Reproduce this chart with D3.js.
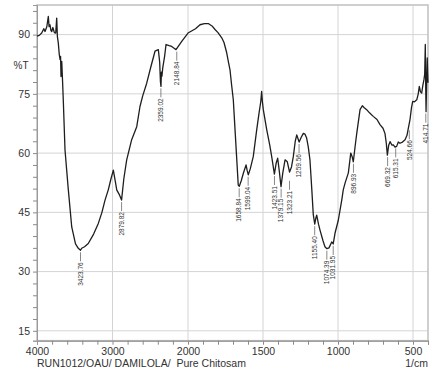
<!DOCTYPE html>
<html>
<head>
<meta charset="utf-8">
<script src="https://cdn.jsdelivr.net/npm/d3@7"></script>
<style>
  body { margin: 0; background: #fff; }
  svg { display: block; font-family: "Liberation Sans", Arial, sans-serif; }
</style>
</head>
<body>
<div class="chart"></div>
<script>
//wavenumber (1/cm) and %T
var wavenumbers = [
  4000, 3970, 3938, 3910, 3894, 3870, 3850, 3840, 3828, 3815, 3805, 3790, 3770, 3752, 3739, 3730,
  3718, 3705, 3695, 3688, 3682, 3672, 3660, 3652, 3629, 3585, 3540, 3490, 3453, 3424, 3408, 3370,
  3321, 3250, 3188, 3140, 3099, 3056, 3020, 2989, 2960, 2944, 2910, 2880, 2850, 2812, 2746, 2679,
  2636, 2600, 2547, 2490, 2437, 2393, 2375, 2365, 2358, 2352, 2345, 2335, 2310, 2291, 2250, 2216,
  2180, 2159, 2083, 2000,
  1950, 1920, 1890, 1865, 1840, 1820, 1800, 1775, 1760, 1742, 1730, 1720, 1710, 1698, 1685, 1676,
  1665, 1658, 1645, 1631, 1613, 1605, 1598, 1585, 1565, 1542, 1525, 1515, 1509, 1504, 1498, 1475,
  1455, 1442, 1424, 1412, 1402, 1390, 1380, 1368, 1353, 1338, 1323, 1310, 1298, 1285, 1275, 1259,
  1245, 1231, 1220, 1209, 1198, 1187, 1175, 1165, 1155, 1148, 1142, 1130, 1120, 1100, 1087, 1074,
  1060, 1042, 1032, 1020, 998, 975, 965, 953, 931, 915, 905, 898, 885, 875, 853, 838,
  825, 809, 790, 765, 740, 720, 700, 687, 678, 671, 662, 653, 640, 631, 620, 609,
  598, 587, 570, 553, 540, 531, 520, 510, 502, 490, 475, 465, 458, 450, 442, 435,
  427, 422, 418, 415, 413, 409, 405, 402, 400
];
var transmittance = [
  89.6, 89.8, 90.4, 91.5, 90.8, 92.0, 94.6, 92.0, 92.5, 91.0, 90.8, 91.8, 90.5, 90.4, 94.2, 89.5,
  87.9, 85.0, 83.7, 84.5, 79.4, 83.2, 77.5, 73.5, 60.8, 50.7, 41.3, 37.0, 35.9, 35.4, 35.9, 36.3,
  37.1, 39.5, 42.2, 45.0, 48.1, 50.7, 53.5, 55.7, 52.5, 50.7, 49.5, 48.1, 53.5, 58.3, 63.4, 66.7,
  71.8, 74.5, 77.7, 82.0, 85.8, 86.2, 83.0, 78.0, 76.9, 80.5, 79.5, 81.5, 84.5, 87.5, 87.2, 87.0,
  86.5, 86.2, 88.3, 90.4,
  91.5, 92.5, 92.8, 92.8, 92.2, 91.3, 90.5, 89.2, 88.0, 85.4, 83.0, 81.1, 77.5, 73.5, 65.0, 59.1,
  51.9, 51.6, 53.0, 54.9, 57.0, 55.5, 54.5, 56.0, 59.1, 65.9, 70.5, 73.0, 75.6, 73.0, 71.0, 65.9,
  62.0, 59.1, 54.7, 57.5, 58.7, 55.0, 51.5, 55.0, 58.3, 57.8, 55.2, 56.5, 59.1, 63.0, 64.6, 62.8,
  64.0, 65.0, 64.8, 63.8, 61.5, 58.3, 51.0, 44.5, 42.0, 43.5, 44.3, 42.0, 40.5, 37.8, 36.3, 35.8,
  36.0, 37.5, 37.0, 39.7, 43.0, 48.1, 50.7, 52.4, 55.0, 60.0, 59.0, 57.8, 62.0, 65.0, 71.0, 72.0,
  71.5, 71.0, 70.2, 69.3, 68.5, 67.2, 66.3, 65.0, 62.5, 59.5, 62.0, 62.9, 62.0, 62.1, 61.5, 61.7,
  62.8, 62.5, 62.8, 63.4, 64.5, 66.3, 68.5, 71.5, 73.1, 73.0, 73.5, 75.0, 76.9, 75.5, 75.2, 77.0,
  78.6, 80.0, 87.5, 76.0, 70.5, 78.0, 84.1, 80.0, 77.8
];

//peak labels and the %T at each trough
var peakLabels = ["3423.76", "2879.82", "2359.02", "2148.84", "1658.84", "1599.04", "1423.51", "1379.15",
  "1323.21", "1259.56", "1155.40", "1074.39", "1031.95", "896.93", "669.32", "615.31", "524.66", "414.71"];
var peakT = [35.4, 48.1, 76.9, 86.2, 51.6, 54.5, 54.7, 51.5, 53.5, 62.8, 42.0, 35.8, 37.0, 57.8, 59.5, 61.7, 66.3, 70.5];

//ticks
var xMajor = [4000, 3000, 2000, 1500, 1000, 500];
var xMinor = [3800, 3600, 3400, 3200, 2800, 2600, 2400, 2200,
  1900, 1800, 1700, 1600, 1400, 1300, 1200, 1100, 900, 800, 700, 600, 400];
var yMajor = [15, 30, 45, 60, 75, 90];
var yMinor = [18, 21, 24, 27, 33, 36, 39, 42, 48, 51, 54, 57, 63, 66, 69, 72, 78, 81, 84, 87, 93, 96];

const w = 448;
const h = 373;
const plotLeft = 37, plotRight = 428, plotTop = 5, plotBottom = 340.7;

//the x axis changes scale at 2000 1/cm
const xScale = d3.scaleLinear()
  .domain([4000, 2000, 400])
  .range([plotLeft, 188, plotRight]);

const yScale = d3.scaleLinear()
  .domain([12.5, 97.5])
  .range([plotBottom, plotTop]);

const svg = d3.select(".chart")
  .append("svg")
  .attr("width", w)
  .attr("height", h);

//grid
svg.append("g")
  .selectAll("line")
  .data(yMajor)
  .enter()
  .append("line")
  .attr("x1", plotLeft).attr("x2", plotRight)
  .attr("y1", (d) => yScale(d)).attr("y2", (d) => yScale(d))
  .attr("stroke", "#d4d4d4")
  .attr("stroke-width", 1);

svg.append("g")
  .selectAll("line")
  .data(xMajor.slice(1))
  .enter()
  .append("line")
  .attr("x1", (d) => xScale(d)).attr("x2", (d) => xScale(d))
  .attr("y1", plotTop).attr("y2", plotBottom)
  .attr("stroke", "#d4d4d4")
  .attr("stroke-width", 1);

//frame
svg.append("rect")
  .attr("x", plotLeft).attr("y", plotTop)
  .attr("width", plotRight - plotLeft).attr("height", plotBottom - plotTop)
  .attr("fill", "none")
  .attr("stroke", "#c4c4c4")
  .attr("stroke-width", 1.6);

//x axis, major and minor ticks
const xAxis = d3.axisBottom(xScale).tickValues(xMajor).tickSize(4).tickPadding(3).tickFormat(d3.format("d"));
svg.append("g")
  .attr("transform", "translate(0," + plotBottom + ")")
  .call(xAxis);
svg.append("g")
  .attr("transform", "translate(0," + plotBottom + ")")
  .call(d3.axisBottom(xScale).tickValues(xMinor).tickSize(4).tickFormat(""));

//y axis
svg.append("g")
  .attr("transform", "translate(" + plotLeft + ",0)")
  .call(d3.axisLeft(yScale).tickValues(yMajor).tickSize(4).tickPadding(3));
svg.append("g")
  .attr("transform", "translate(" + plotLeft + ",0)")
  .call(d3.axisLeft(yScale).tickValues(yMinor).tickSize(4).tickFormat(""));

svg.selectAll(".domain").attr("stroke", "#9a9a9a");
svg.selectAll(".tick line").attr("stroke", "#8a8a8a");
svg.selectAll(".tick text")
  .attr("font-family", "Liberation Sans, Arial, sans-serif")
  .attr("font-size", "10.5px")
  .attr("fill", "#333");

//%T label
svg.append("text")
  .attr("x", 21).attr("y", 69)
  .attr("text-anchor", "middle")
  .attr("font-size", "10px")
  .attr("fill", "#333")
  .text("%T");

//spectrum
const points = wavenumbers.map((d, i) => [d, transmittance[i]]);
const line = d3.line()
  .x((d) => xScale(d[0]))
  .y((d) => yScale(d[1]));

svg.append("path")
  .datum(points)
  .attr("d", line)
  .attr("fill", "none")
  .attr("stroke", "#1e1e1e")
  .attr("stroke-width", 1.3)
  .attr("stroke-linejoin", "round");

//peak labels with leader lines
const peaks = peakLabels.map((d, i) => ({ label: d, wn: +d, t: peakT[i] }));
const pk = svg.append("g")
  .selectAll("g")
  .data(peaks)
  .enter()
  .append("g")
  .attr("transform", (d) => "translate(" + xScale(d.wn) + "," + yScale(d.t) + ")");

pk.append("line")
  .attr("x1", 0).attr("x2", 0)
  .attr("y1", 2).attr("y2", 11)
  .attr("stroke", "#555")
  .attr("stroke-width", 0.7);

pk.append("text")
  .attr("transform", "translate(2.2,12) rotate(-90)")
  .attr("text-anchor", "end")
  .attr("font-size", "6.5px")
  .attr("fill", "#333")
  .text((d) => d.label);

//footer
svg.append("text")
  .attr("x", plotLeft).attr("y", 367)
  .attr("font-size", "10.5px")
  .attr("fill", "#333")
  .text("RUN1012/OAU/ DAMILOLA/\u00a0\u00a0Pure Chitosam");

svg.append("text")
  .attr("x", plotRight).attr("y", 367)
  .attr("text-anchor", "end")
  .attr("font-size", "10.5px")
  .attr("fill", "#333")
  .text("1/cm");
</script>
</body>
</html>
